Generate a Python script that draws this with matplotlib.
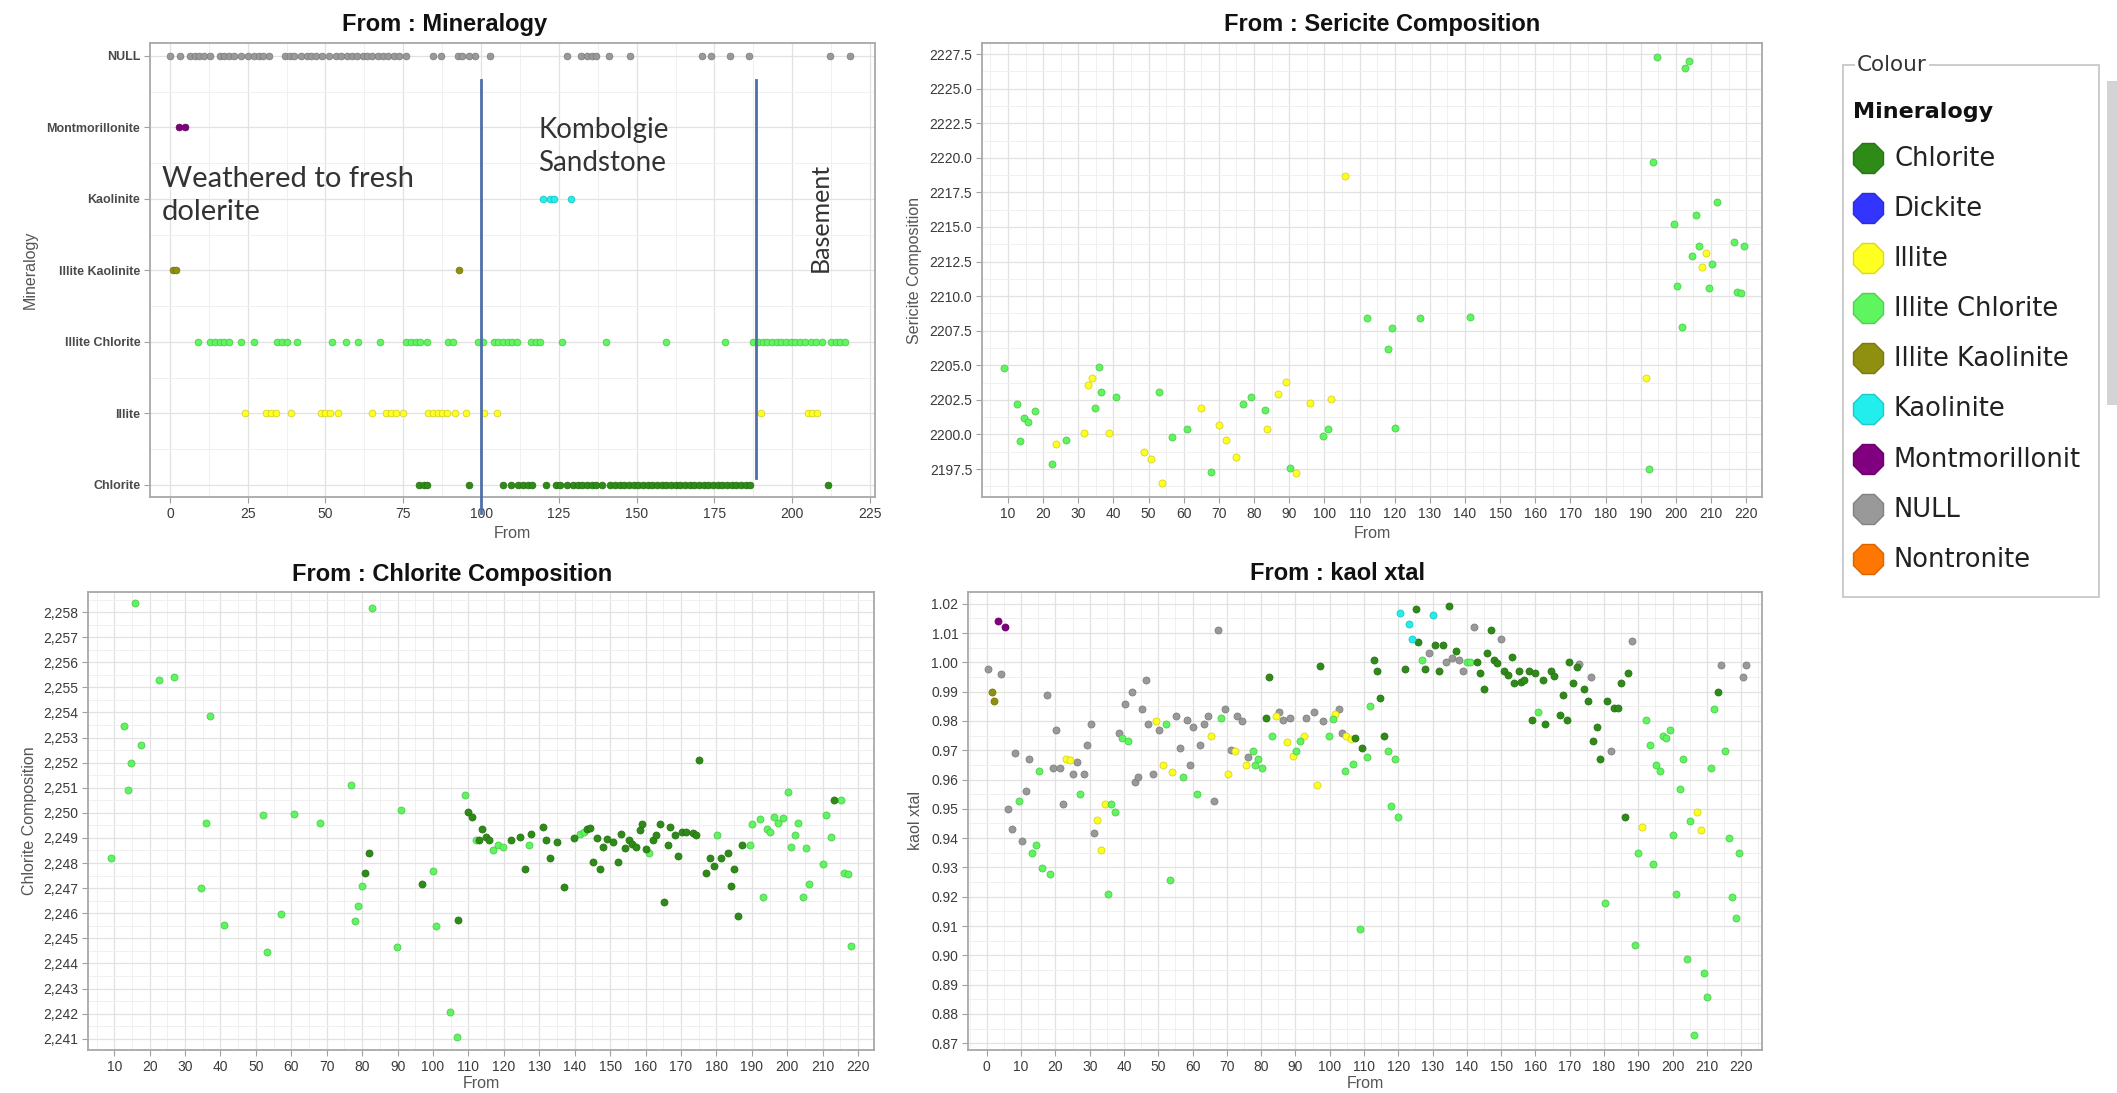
import matplotlib
matplotlib.use("Agg")
import matplotlib.pyplot as plt
from matplotlib.ticker import MultipleLocator, FuncFormatter, FormatStrFormatter
from matplotlib.lines import Line2D
from matplotlib.patches import Rectangle
from matplotlib.colors import to_rgb

plt.rcParams["font.family"] = ["Liberation Sans", "DejaVu Sans"]

W, H = 2117, 1093

# ---------------------------------------------------------------- palette
legend_names = ["Chlorite", "Dickite", "Illite", "Illite Chlorite", "Illite Kaolinite",
                "Kaolinite", "Montmorillonit", "NULL", "Nontronite"]
legend_colors = ["#2e8b17", "#3434ff", "#ffff22", "#5ef55e", "#8f8f10",
                 "#22eeee", "#800080", "#999999", "#ff7700"]
COL = dict(zip(legend_names, legend_colors))

# ---------------------------------------------------------------- Mineralogy vs From
mineral_rows = ["Chlorite", "Illite", "Illite Chlorite", "Illite Kaolinite",
                "Kaolinite", "Montmorillonite", "NULL"]
min_null = [0, 3.2, 6.5, 8, 9.5, 11, 12.8, 16, 17.5, 19, 20.5, 23, 25, 27, 28.5, 30, 32,
            37, 38.5, 40, 42, 44, 45.5, 47, 49, 51, 53.5, 55, 57, 58.5, 60, 62, 63.5, 65,
            67, 68.5, 70, 72, 73.5, 76, 84.5, 87, 92.5, 94, 96, 98, 103, 127.5, 132, 134,
            135.5, 137, 141, 148, 171, 174, 180, 186, 212, 218.5]
min_montmorillonite = [3, 5]
min_kaolinite = [120, 122, 123.5, 129]
min_illite_kaolinite = [1, 2, 93]
min_illite_chlorite = [9, 13, 14.5, 16, 17.5, 19, 23, 27, 34.5, 36, 37.5, 41, 52, 56.5,
                       60.5, 67.5, 76, 77.5, 79, 80.5, 82.5, 89.5, 91, 99, 100.5, 104,
                       105.5, 107, 108.5, 110, 111.5, 116, 117.5, 119, 126, 140, 159.5,
                       178.5, 187.5, 189, 190.5, 192, 193.5, 195, 196.5, 198, 199.5, 201,
                       202.5, 204, 206, 207.5, 209.5, 212.5, 214, 215.5, 217]
min_illite = [24, 31, 32.5, 34, 39, 48.5, 50, 51.5, 54, 65, 69.5, 71, 72.5, 75, 83, 84.5,
              86, 87.5, 89, 91.5, 95, 101, 105, 190, 205, 206.5, 208]
min_chlorite = [80, 81.5, 82.5, 96, 107, 109.5, 112, 113.5, 115, 116.5, 121, 124, 125.5,
                127.5, 129.5, 131, 132.5, 134, 135.5, 137, 139, 141.5, 143, 144.5, 146,
                147.5, 149, 150.5, 152, 153.5, 155, 156.5, 158, 159.5, 161, 162.5, 164,
                165.5, 167, 168.5, 170, 171.5, 173, 174.5, 176, 177.5, 179, 180.5, 182,
                183.5, 185, 186.5, 211.5]
unit_boundaries = [100, 188.5]

# ---------------------------------------------------------------- Sericite Composition
seri_ic_from = [8.8, 12.6, 13.5, 14.5, 15.7, 17.7, 22.5, 26.6, 34.7, 35.9, 36.5, 40.6,
                52.9, 56.7, 60.8, 67.8, 76.8, 79.0, 83.0, 90.2, 99.6, 101.0, 112.0, 118.0,
                119.2, 120.1, 127.3, 141.4, 192.4, 193.4, 194.6, 199.5, 200.4, 201.6,
                202.5, 203.7, 204.6, 205.6, 206.5, 209.5, 210.4, 211.6, 216.4, 217.5,
                218.6, 219.4]
seri_ic_val = [2204.8, 2202.2, 2199.5, 2201.2, 2200.9, 2201.7, 2197.9, 2199.6, 2201.9,
               2204.9, 2203.1, 2202.7, 2203.1, 2199.8, 2200.4, 2197.3, 2202.2, 2202.7,
               2201.8, 2197.6, 2199.9, 2200.4, 2208.4, 2206.2, 2207.7, 2200.5, 2208.4,
               2208.5, 2197.5, 2219.7, 2227.3, 2215.2, 2210.7, 2207.8, 2226.5, 2227.0,
               2212.9, 2215.9, 2213.6, 2210.6, 2212.3, 2216.8, 2213.9, 2210.3, 2210.2,
               2213.6]
seri_il_from = [23.6, 31.6, 32.8, 33.8, 38.7, 48.8, 50.7, 53.9, 64.9, 70.1, 72.1, 74.8,
                83.8, 86.9, 89.0, 91.9, 95.9, 101.9, 105.9, 191.5, 207.5, 208.7]
seri_il_val = [2199.3, 2200.1, 2203.6, 2204.1, 2200.1, 2198.7, 2198.2, 2196.5, 2201.9,
               2200.7, 2199.6, 2198.4, 2200.4, 2202.9, 2203.8, 2197.2, 2202.3, 2202.6,
               2218.7, 2204.1, 2212.1, 2213.1]

# ---------------------------------------------------------------- Chlorite Composition
chl_ic_from = [9.0, 12.8, 14.0, 14.7, 15.8, 17.7, 22.7, 26.8, 34.6, 35.9, 37.0, 41.0, 52.1,
               53.0, 57.2, 60.7, 68.0, 76.8, 77.9, 78.9, 80.0, 82.9, 89.9, 91.1, 100.0,
               100.8, 104.9, 106.9, 108.9, 112.0, 116.9, 118.3, 119.7, 127.1, 141.4, 142.5,
               161.1, 180.1, 189.6, 190.0, 192.3, 193.3, 194.2, 195.2, 196.4, 197.5, 198.9,
               200.3, 201.2, 202.2, 203.1, 204.4, 205.3, 206.1, 210.0, 210.9, 212.3, 215.2,
               216.1, 217.2, 218.1]
chl_ic_val = [2248.2, 2253.45, 2250.9, 2252.0, 2258.35, 2252.7, 2255.3, 2255.4, 2247.0,
              2249.6, 2253.85, 2245.55, 2249.9, 2244.45, 2245.95, 2249.95, 2249.6, 2251.1,
              2245.7, 2246.3, 2247.1, 2258.15, 2244.65, 2250.1, 2247.7, 2245.5, 2242.05,
              2241.05, 2250.7, 2248.9, 2248.5, 2248.7, 2248.65, 2248.7, 2249.15, 2249.25,
              2248.4, 2249.1, 2248.7, 2249.55, 2249.75, 2246.65, 2249.35, 2249.25, 2249.85,
              2249.6, 2249.8, 2250.85, 2248.65, 2249.1, 2249.6, 2246.65, 2248.6, 2247.15,
              2247.95, 2249.9, 2249.05, 2250.5, 2247.6, 2247.55, 2244.7]
chl_ch_from = [80.9, 81.9, 96.9, 107.1, 109.8, 110.9, 112.9, 113.9, 115.0, 115.9, 121.9,
               124.7, 126.0, 127.8, 131.0, 132.0, 133.1, 135.1, 137.0, 139.9, 143.4, 144.2,
               145.1, 146.2, 147.2, 147.9, 149.0, 150.9, 152.2, 153.1, 154.2, 155.3, 156.3,
               157.3, 158.3, 158.9, 160.1, 162.0, 163.0, 164.1, 165.2, 166.3, 166.9, 168.3,
               169.3, 170.2, 171.4, 173.3, 174.3, 175.1, 177.1, 178.2, 179.2, 181.3, 183.2,
               184.1, 185.1, 186.0, 187.2, 213.3]
chl_ch_val = [2247.6, 2248.4, 2247.15, 2245.75, 2250.05, 2249.85, 2248.9, 2249.35, 2249.05,
              2248.9, 2248.9, 2249.05, 2247.75, 2249.15, 2249.45, 2248.9, 2248.2, 2248.85,
              2247.05, 2249.0, 2249.35, 2249.4, 2248.05, 2249.0, 2247.75, 2248.65, 2248.95,
              2248.85, 2248.05, 2249.15, 2248.6, 2248.9, 2248.75, 2248.65, 2249.3, 2249.55,
              2248.55, 2248.9, 2249.1, 2249.55, 2246.45, 2248.7, 2249.45, 2249.1, 2248.3,
              2249.25, 2249.25, 2249.2, 2249.1, 2252.1, 2247.6, 2248.2, 2247.9, 2248.2,
              2248.4, 2247.1, 2247.75, 2245.9, 2248.7, 2250.5]

# ---------------------------------------------------------------- kaol xtal
kx_null_from = [0.2, 4.1, 6.3, 7.3, 8.3, 10.2, 11.3, 12.2, 17.4, 19.2, 20.2, 21.4, 22.3,
                25.1, 26.3, 28.2, 29.2, 30.4, 31.2, 38.4, 40.4, 42.3, 43.2, 44.2, 45.3,
                46.3, 47.1, 48.4, 50.2, 55.3, 56.3, 58.3, 59.4, 60.2, 62.2, 63.2, 64.4,
                66.3, 67.4, 69.4, 71.1, 73.0, 74.3, 76.3, 85.3, 86.3, 88.5, 93.2, 95.4,
                98.1, 102.7, 103.7, 129.0, 133.9, 135.8, 137.8, 138.8, 142.0, 149.9, 172.8,
                176.1, 182.2, 188.1, 214.2, 220.5, 221.5]
kx_null_val = [0.9978, 0.9960, 0.9501, 0.9430, 0.9691, 0.9389, 0.9560, 0.9670, 0.9889,
               0.9638, 0.9770, 0.9638, 0.9518, 0.9620, 0.9660, 0.9620, 0.9717, 0.9788,
               0.9418, 0.9759, 0.9859, 0.9898, 0.9591, 0.9608, 0.9841, 0.9938, 0.9788,
               0.9619, 0.9770, 0.9818, 0.9709, 0.9802, 0.9650, 0.9779, 0.9717, 0.9788,
               0.9818, 0.9528, 1.0110, 0.9841, 0.9702, 0.9818, 0.9800, 0.9678, 0.9830,
               0.9802, 0.9809, 0.9809, 0.9830, 0.9800, 0.9841, 0.9759, 1.0031, 1.0001,
               1.0015, 1.0009, 0.9969, 1.0120, 1.0080, 0.9995, 0.9951, 0.9699, 1.0072,
               0.9992, 0.9951, 0.9992]
kx_mont_from = [3.3, 5.3]
kx_mont_val = [1.0141, 1.0120]
kx_ik_from = [1.4, 2.2]
kx_ik_val = [0.9898, 0.9867]
kx_il_from = [23.1, 24.3, 32.2, 33.2, 34.4, 49.4, 51.4, 54.1, 65.4, 70.3, 72.3, 75.5, 84.4,
              87.5, 89.3, 92.4, 96.4, 101.5, 104.7, 106.2, 191.1, 207.2, 208.4]
kx_il_val = [0.9670, 0.9666, 0.9463, 0.9359, 0.9518, 0.9800, 0.9650, 0.9626, 0.9747,
             0.9619, 0.9699, 0.9650, 0.9818, 0.9729, 0.9680, 0.9747, 0.9581, 0.9824,
             0.9747, 0.9737, 0.9439, 0.9490, 0.9427]
kx_ic_from = [9.4, 13.3, 14.3, 15.3, 16.2, 18.4, 27.3, 35.3, 36.1, 37.4, 39.4, 41.3, 52.2,
              53.3, 57.1, 61.4, 68.3, 77.5, 78.2, 79.2, 80.2, 83.2, 90.3, 91.2, 99.7,
              101.0, 104.5, 106.7, 108.9, 111.0, 111.7, 117.1, 117.9, 119.0, 120.0, 126.9,
              140.0, 141.0, 160.7, 180.2, 189.0, 190.0, 192.3, 193.3, 194.3, 195.1, 196.3,
              197.2, 198.2, 199.2, 200.0, 201.0, 202.2, 203.2, 204.2, 205.2, 206.2, 209.2,
              210.2, 211.2, 212.2, 215.2, 216.4, 217.4, 218.4, 219.5]
kx_ic_val = [0.9528, 0.9350, 0.9378, 0.9628, 0.9299, 0.9279, 0.9549, 0.9211, 0.9518,
             0.9489, 0.9741, 0.9731, 0.9788, 0.9258, 0.9608, 0.9549, 0.9809, 0.9699,
             0.9650, 0.9670, 0.9638, 0.9747, 0.9699, 0.9731, 0.9747, 0.9806, 0.9628,
             0.9652, 0.9090, 0.9678, 0.9850, 0.9699, 0.9510, 0.9670, 0.9471, 1.0009,
             1.0001, 1.0001, 0.9830, 0.9179, 0.9037, 0.9350, 0.9802, 0.9717, 0.9311,
             0.9650, 0.9628, 0.9749, 0.9741, 0.9770, 0.9410, 0.9211, 0.9569, 0.9670,
             0.8989, 0.9460, 0.8729, 0.8940, 0.8859, 0.9638, 0.9841, 0.9699, 0.9400,
             0.9200, 0.9129, 0.9350]
kx_ch_from = [81.4, 82.4, 97.1, 107.5, 109.5, 112.9, 113.9, 114.7, 115.9, 122.0, 125.2,
              125.9, 127.9, 130.8, 131.9, 133.1, 134.9, 136.8, 143.0, 143.8, 145.0, 146.0,
              147.0, 148.0, 148.9, 150.9, 151.9, 153.1, 153.9, 155.1, 155.8, 156.8, 158.0,
              159.1, 159.9, 162.2, 162.9, 164.5, 165.5, 167.2, 168.0, 169.1, 169.9, 170.9,
              172.1, 174.1, 175.3, 176.9, 178.0, 178.9, 181.0, 182.9, 184.1, 185.1, 186.1,
              187.1, 213.2]
kx_ch_val = [0.9809, 0.9951, 0.9989, 0.9741, 0.9709, 1.0009, 0.9969, 0.9879, 0.9749,
             0.9978, 1.0181, 1.0070, 0.9978, 1.0058, 0.9969, 1.0058, 1.0191, 1.0039,
             1.0001, 0.9962, 0.9909, 1.0031, 1.0110, 1.0007, 0.9999, 0.9969, 0.9957,
             1.0019, 0.9930, 0.9969, 0.9934, 0.9938, 0.9969, 0.9802, 0.9963, 0.9938,
             0.9788, 0.9969, 0.9954, 0.9820, 0.9889, 0.9802, 1.0001, 0.9930, 0.9983,
             0.9909, 0.9869, 0.9731, 0.9780, 0.9670, 0.9869, 0.9844, 0.9844, 0.9930,
             0.9471, 0.9962, 0.9898]
kx_ka_from = [120.6, 123.0, 124.0, 130.2]
kx_ka_val = [1.0170, 1.0131, 1.0078, 1.0161]


# ---------------------------------------------------------------- helpers
def shade(c, f):
    r, g, b = to_rgb(c)
    return (r * f, g * f, b * f)


def add_axes_px(left, top, right, bottom):
    return fig.add_axes([left / W, 1 - bottom / H, (right - left) / W, (bottom - top) / H])


def style_axes(ax):
    for sp in ax.spines.values():
        sp.set_color("#a8a8a8")
        sp.set_linewidth(1.3)
    ax.set_axisbelow(True)
    ax.grid(True, which="major", color="#e2e2e2", lw=0.9)
    ax.grid(True, which="minor", color="#f0f0f0", lw=0.7)
    ax.tick_params(which="major", length=4, width=0.8, color="#a0a0a0",
                   labelsize=10, labelcolor="#3a3a3a", pad=3)
    ax.tick_params(which="minor", length=0)


def dots(ax, x, y, name, s=26):
    c = COL[name]
    ax.scatter(x, y, s=s, c=[c], edgecolors=[shade(c, 0.8)], linewidths=0.5, zorder=3)


fig = plt.figure(figsize=(W / 100, H / 100), dpi=100)

# ---------------------------------------------------------------- panel 1
ax1 = add_axes_px(150, 43, 875, 497)
style_axes(ax1)
rows = {name: i for i, name in enumerate(mineral_rows)}
series1 = [("NULL", min_null, "NULL"),
           ("Montmorillonite", min_montmorillonite, "Montmorillonit"),
           ("Kaolinite", min_kaolinite, "Kaolinite"),
           ("Illite Kaolinite", min_illite_kaolinite, "Illite Kaolinite"),
           ("Illite Chlorite", min_illite_chlorite, "Illite Chlorite"),
           ("Illite", min_illite, "Illite"),
           ("Chlorite", min_chlorite, "Chlorite")]
for row, xs, cname in series1:
    dots(ax1, xs, [rows[row]] * len(xs), cname, s=24)
ax1.set_xlim(-6.4, 226.6)
ax1.set_ylim(-0.17, 6.18)
ax1.set_yticks(range(len(mineral_rows)))
ax1.set_yticklabels(mineral_rows, fontsize=9, fontweight="bold", color="#4a4a4a")
ax1.xaxis.set_major_locator(MultipleLocator(25))
ax1.xaxis.set_minor_locator(MultipleLocator(12.5))
ax1.yaxis.set_minor_locator(MultipleLocator(0.5))

xt = ax1.get_xaxis_transform()
ax1.plot([unit_boundaries[0]] * 2, [-0.035, 0.918], transform=xt, color="#4f6fa8",
         lw=2, clip_on=False, zorder=4)
ax1.plot([unit_boundaries[1]] * 2, [0.042, 0.918], transform=xt, color="#4f6fa8",
         lw=2, clip_on=False, zorder=4)
ann_font = dict(family=["Lato", "DejaVu Sans"], color="#333333")
ax1.text(-2.5, 0.728, "Weathered to fresh\ndolerite", transform=xt, va="top", ha="left",
         linespacing=1.3, fontsize=21, **ann_font)
ax1.text(118.3, 0.836, "Kombolgie\nSandstone", transform=xt, va="top", ha="left",
         linespacing=1.3, fontsize=20, **ann_font)
ax1.text(209.0, 0.615, "Basement", transform=xt, va="center", ha="center",
         rotation=90, fontsize=18, **ann_font)

# ---------------------------------------------------------------- panel 2
ax2 = add_axes_px(982, 43, 1762, 497)
style_axes(ax2)
dots(ax2, seri_ic_from, seri_ic_val, "Illite Chlorite")
dots(ax2, seri_il_from, seri_il_val, "Illite")
ax2.set_xlim(2.6, 224.5)
ax2.set_ylim(2195.48, 2228.3)
ax2.xaxis.set_major_locator(MultipleLocator(10))
ax2.xaxis.set_minor_locator(MultipleLocator(5))
ax2.yaxis.set_major_locator(MultipleLocator(2.5))
ax2.yaxis.set_minor_locator(MultipleLocator(1.25))
ax2.yaxis.set_major_formatter(FormatStrFormatter("%.1f"))

# ---------------------------------------------------------------- panel 3
ax3 = add_axes_px(88, 592, 874, 1050)
style_axes(ax3)
dots(ax3, chl_ic_from, chl_ic_val, "Illite Chlorite")
dots(ax3, chl_ch_from, chl_ch_val, "Chlorite")
ax3.set_xlim(2.6, 224.5)
ax3.set_ylim(2240.55, 2258.8)
ax3.xaxis.set_major_locator(MultipleLocator(10))
ax3.xaxis.set_minor_locator(MultipleLocator(5))
ax3.yaxis.set_major_locator(MultipleLocator(1))
ax3.yaxis.set_minor_locator(MultipleLocator(0.5))
ax3.yaxis.set_major_formatter(FuncFormatter(lambda v, p: f"{int(round(v)):,}"))

# ---------------------------------------------------------------- panel 4
ax4 = add_axes_px(968, 592, 1762, 1050)
style_axes(ax4)
dots(ax4, kx_null_from, kx_null_val, "NULL")
dots(ax4, kx_il_from, kx_il_val, "Illite")
dots(ax4, kx_ic_from, kx_ic_val, "Illite Chlorite")
dots(ax4, kx_ch_from, kx_ch_val, "Chlorite")
dots(ax4, kx_ka_from, kx_ka_val, "Kaolinite")
dots(ax4, kx_ik_from, kx_ik_val, "Illite Kaolinite")
dots(ax4, kx_mont_from, kx_mont_val, "Montmorillonit")
ax4.set_xlim(-5.5, 226.1)
ax4.set_ylim(0.8677, 1.024)
ax4.xaxis.set_major_locator(MultipleLocator(10))
ax4.xaxis.set_minor_locator(MultipleLocator(5))
ax4.yaxis.set_major_locator(MultipleLocator(0.01))
ax4.yaxis.set_minor_locator(MultipleLocator(0.005))
ax4.yaxis.set_major_formatter(FormatStrFormatter("%.2f"))

# ---------------------------------------------------------------- titles, labels, legend
ov = fig.add_axes([0, 0, 1, 1])
ov.set_xlim(0, W)
ov.set_ylim(H, 0)
ov.axis("off")
ov.patch.set_visible(False)

title_kw = dict(ha="center", va="center", fontsize=17, fontweight="bold", color="#111111")
ov.text(445, 24, "From : Mineralogy", **title_kw)
ov.text(1382, 24, "From : Sericite Composition", **title_kw)
ov.text(452, 574, "From : Chlorite Composition", **title_kw)
ov.text(1338, 574, "From : kaol xtal", **title_kw)

lab_kw = dict(ha="center", va="center", fontsize=11.5, color="#555555")
ov.text(512, 534, "From", **lab_kw)
ov.text(1372, 534, "From", **lab_kw)
ov.text(481, 1083, "From", **lab_kw)
ov.text(1365, 1083, "From", **lab_kw)
ov.text(30, 270, "Mineralogy", rotation=90, **lab_kw)
ov.text(915, 270, "Sericite Composition", rotation=90, **lab_kw)
ov.text(30, 821, "Chlorite Composition", rotation=90, **lab_kw)
ov.text(915, 821, "kaol xtal", rotation=90, **lab_kw)

ov.add_patch(Rectangle((1843, 65), 256, 532, fill=False, ec="#c8c8c8", lw=1.3))
ov.add_patch(Rectangle((2107, 81), 10, 324, fc="#d4d4d4", ec="none"))
leg_font = ["DejaVu Sans"]
ov.text(1857, 65, "Colour", ha="left", va="center", fontsize=15.5, color="#333333",
        family=leg_font, bbox=dict(fc="white", ec="none", pad=1.5))
ov.text(1853, 112, "Mineralogy", ha="left", va="center", fontsize=16, fontweight="bold",
        color="#111111", family=leg_font)
for i, (name, c) in enumerate(zip(legend_names, legend_colors)):
    yy = 158 + 50.1 * i
    ov.add_line(Line2D([1868], [yy], marker="8", ms=23, mfc=c, mec=shade(c, 0.85),
                       mew=1, ls="none"))
    ov.text(1894, yy + 1, name, ha="left", va="center", fontsize=18.5, color="#222222",
            family=leg_font)

fig.savefig("out.png", dpi=100, facecolor="white")
